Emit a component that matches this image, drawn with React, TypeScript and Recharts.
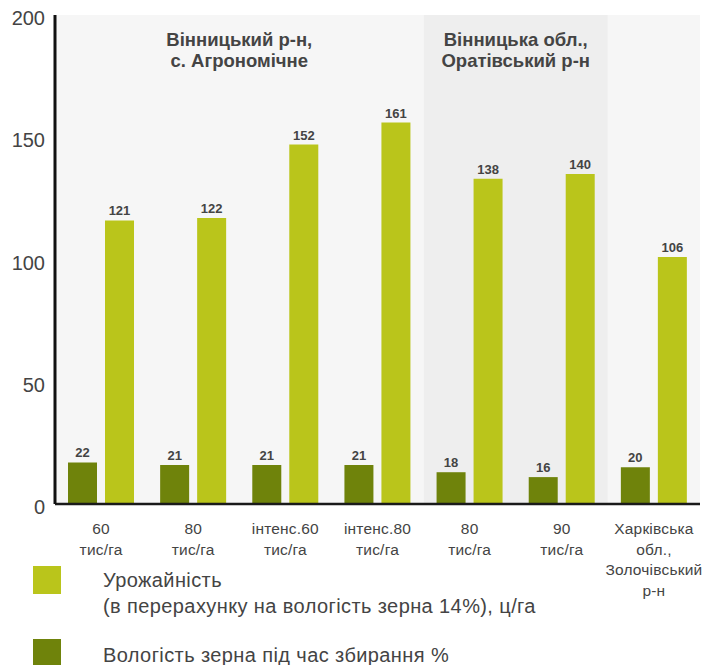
import React from 'react';
import { BarChart, Bar, XAxis, YAxis, ReferenceArea, LabelList } from 'recharts';

const CATEGORY_IDS = ['g1', 'g2', 'g3', 'g4', 'g5', 'g6', 'g7'];
const CATEGORY_LABELS = [
  ['60', 'тис/га'],
  ['80', 'тис/га'],
  ['інтенс.60', 'тис/га'],
  ['інтенс.80', 'тис/га'],
  ['80', 'тис/га'],
  ['90', 'тис/га'],
  ['Харківська', 'обл.,', 'Золочівський', 'р-н'],
];
const MOISTURE = [22, 21, 21, 21, 18, 16, 20];
const YIELD = [121, 122, 152, 161, 138, 140, 106];
const Y_TICKS = [0, 50, 100, 150, 200];
// bars in the source sit ~5 units below the printed tick grid
const AXIS_SHIFT = 5;

const REGIONS = [
  { from: 'g1', to: 'g4', title: ['Вінницький р-н,', 'с. Агрономічне'], fill: '#f6f6f6' },
  { from: 'g5', to: 'g6', title: ['Вінницька обл.,', 'Оратівський р-н'], fill: '#eeeeee' },
  { from: 'g7', to: 'g7', title: [], fill: '#f6f6f6' },
];

const YIELD_COLOR = '#bac51b';
const MOISTURE_COLOR = '#6f830b';
const TEXT = '#444';

const data = CATEGORY_IDS.map((id, i) => ({
  id,
  moisture: MOISTURE[i],
  yield: YIELD[i],
}));

function XTick({ x, y, payload }: any) {
  const lines = CATEGORY_LABELS[CATEGORY_IDS.indexOf(payload.value)] ?? [];
  return (
    <text x={x} y={y + 30} textAnchor="middle" fill={TEXT} fontSize={15.5} letterSpacing={0.2}>
      {lines.map((l, i) => (
        <tspan key={i} x={x} dy={i === 0 ? 0 : 20.5}>
          {l}
        </tspan>
      ))}
    </text>
  );
}

function YTick({ x, y, payload }: any) {
  return (
    <text x={x} y={y + 3} dy="0.35em" textAnchor="end" fill={TEXT} fontSize={20}>
      {payload.value - AXIS_SHIFT}
    </text>
  );
}

function regionShape(title: string[], fill: string) {
  return (props: any) => {
    const { x, y, width, height } = props;
    return (
      <g>
        <rect x={x} y={y} width={width} height={height} fill={fill} />
        {title.map((t, i) => (
          <text
            key={i}
            x={x + width / 2}
            y={y + 31 + i * 21}
            textAnchor="middle"
            fontSize={18.5}
            fontWeight="bold"
            fill={TEXT}
          >
            {t}
          </text>
        ))}
      </g>
    );
  };
}

const legendText = { position: 'absolute' as const, left: 103, fontSize: 20, letterSpacing: 0.4, lineHeight: '26px', color: TEXT };

export default function App() {
  return (
    <div
      style={{
        position: 'absolute',
        left: 0,
        top: 0,
        width: 702,
        height: 665,
        fontFamily: '"Liberation Sans", Arial, sans-serif',
        background: '#fff',
      }}
    >
      <BarChart
        width={702}
        height={665}
        data={data}
        margin={{ top: 15, right: 2, left: 0, bottom: 0 }}
        barGap={8}
        barCategoryGap={13}
      >
        {REGIONS.map((r) => (
          <ReferenceArea
            key={r.from}
            x1={r.from}
            x2={r.to}
            fill={r.fill}
            fillOpacity={1}
            shape={regionShape(r.title, r.fill)}
          />
        ))}
        <XAxis
          dataKey="id"
          height={161}
          tick={<XTick />}
          tickLine={false}
          tickSize={0}
          tickMargin={0}
          interval={0}
          axisLine={{ stroke: '#1a1a1a', strokeWidth: 2.5 }}
        />
        <YAxis
          width={55}
          domain={[AXIS_SHIFT, 200 + AXIS_SHIFT]}
          ticks={Y_TICKS.map((t) => t + AXIS_SHIFT)}
          tick={<YTick />}
          tickLine={false}
          tickSize={0}
          tickMargin={10}
          allowDataOverflow
          axisLine={{ stroke: '#111', strokeWidth: 3 }}
        />
        <Bar dataKey="moisture" fill={MOISTURE_COLOR} barSize={29} isAnimationActive={false}>
          <LabelList dataKey="moisture" position="top" offset={5} fontSize={13} fontWeight="bold" fill={TEXT} />
        </Bar>
        <Bar dataKey="yield" fill={YIELD_COLOR} barSize={29} isAnimationActive={false}>
          <LabelList dataKey="yield" position="top" offset={5} fontSize={13} fontWeight="bold" fill={TEXT} />
        </Bar>
      </BarChart>
      <div style={{ position: 'absolute', left: 33, top: 566, width: 28, height: 28, background: YIELD_COLOR }} />
      <div style={{ ...legendText, top: 567 }}>
        Урожайність
        <br />
        (в перерахунку на вологість зерна 14%), ц/га
      </div>
      <div style={{ position: 'absolute', left: 33, top: 639, width: 28, height: 28, background: MOISTURE_COLOR }} />
      <div style={{ ...legendText, top: 642 }}>Вологість зерна під час збирання %</div>
    </div>
  );
}
